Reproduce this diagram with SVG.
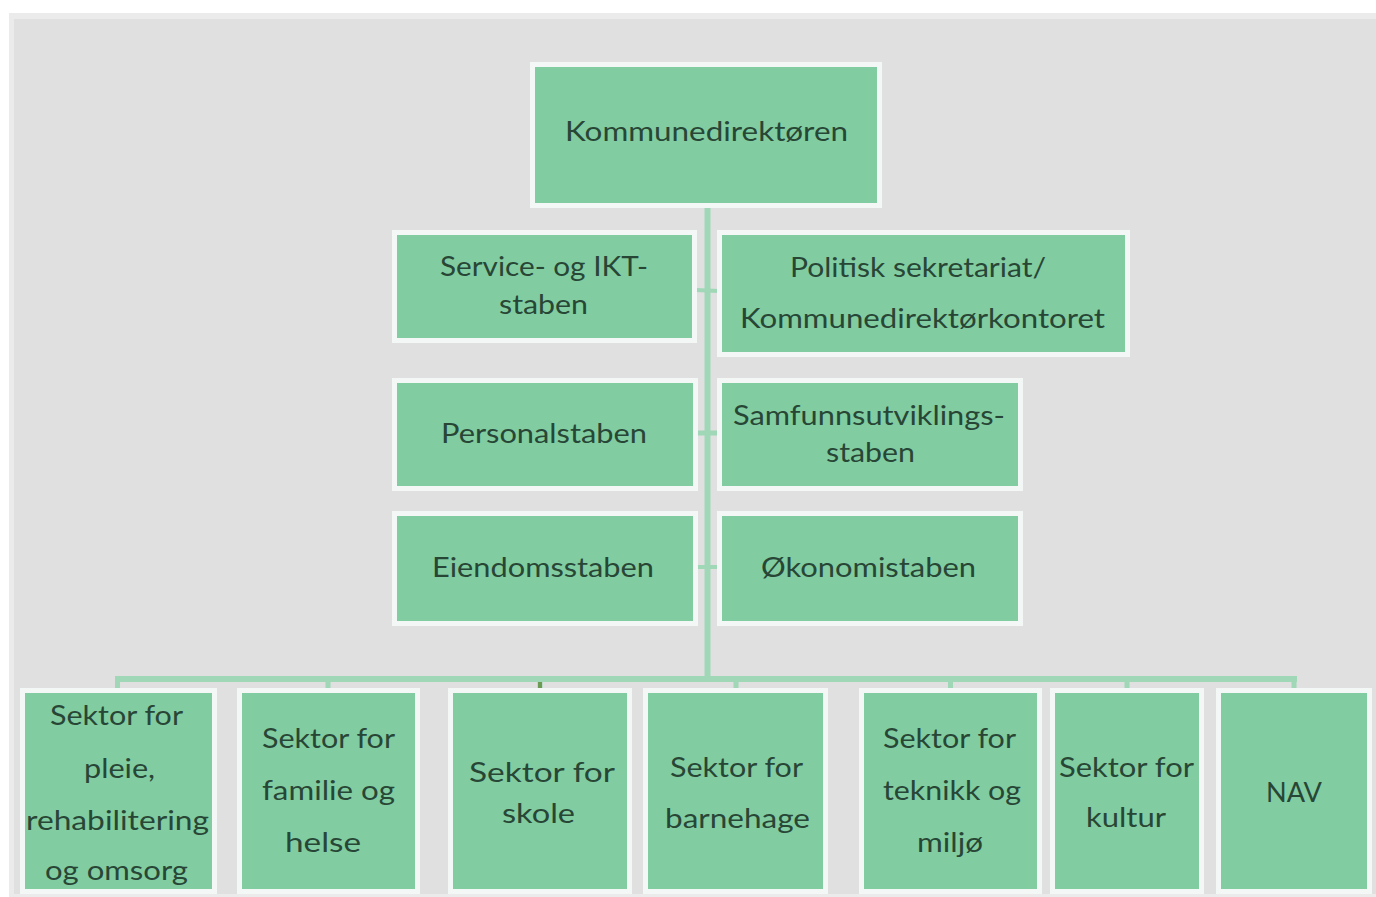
<svg xmlns="http://www.w3.org/2000/svg" width="1376" height="897" viewBox="0 0 1376 897">
<style>
.box{fill:#81cda1;stroke:#f3f7f5;stroke-width:5}
.t{font-family:Lato,"Liberation Sans",Arial,sans-serif;font-size:26px;fill:#284636;text-anchor:middle}
.s{font-size:27px}
.line{stroke:#9fd7b7;fill:none}
</style>
<rect x="0" y="0" width="1376" height="897" fill="#ffffff"/>
<rect x="9" y="13" width="1367" height="884" fill="#ebebeb"/>
<rect x="14" y="19" width="1362" height="875" fill="#e0e0e0"/>

<g id="connectors">
<line class="line" x1="707.5" y1="207" x2="707.5" y2="681" stroke-width="6"/>
<line class="line" x1="115" y1="679" x2="1297" y2="679" stroke-width="6" stroke="#97d5b1"/>
<line class="line" x1="117.5" y1="679" x2="117.5" y2="691" stroke-width="5"/>
<line class="line" x1="328" y1="679" x2="328" y2="691" stroke-width="5"/>
<line class="line" x1="540" y1="679" x2="540" y2="691" stroke-width="5"/>
<rect x="538" y="682" width="4" height="7" fill="#6c9a52"/>
<line class="line" x1="736" y1="679" x2="736" y2="691" stroke-width="5"/>
<line class="line" x1="950.5" y1="679" x2="950.5" y2="691" stroke-width="5"/>
<line class="line" x1="1127" y1="679" x2="1127" y2="691" stroke-width="5"/>
<line class="line" x1="1294" y1="679" x2="1294" y2="691" stroke-width="5"/>
<line class="line" x1="695" y1="290" x2="719" y2="291" stroke-width="4"/>
<line class="line" x1="696" y1="433" x2="719" y2="433" stroke-width="5"/>
<line class="line" x1="696" y1="567" x2="719" y2="567" stroke-width="4"/>
</g>

<g id="kommunedirektoren">
<rect class="box" x="532.5" y="64.5" width="347" height="141"/>
<text class="t" x="706.5" y="141" textLength="283" lengthAdjust="spacingAndGlyphs">Kommunedirektøren</text>
</g>

<g id="service-ikt">
<rect class="box" x="394.5" y="232.5" width="300" height="108"/>
<text class="t" x="544" y="276" textLength="208" lengthAdjust="spacingAndGlyphs">Service- og IKT-</text>
<text class="t" x="543.5" y="314" textLength="89" lengthAdjust="spacingAndGlyphs">staben</text>
</g>

<g id="politisk">
<rect class="box" x="719.5" y="232.5" width="408" height="122"/>
<text class="t" x="918" y="277" textLength="256" lengthAdjust="spacingAndGlyphs">Politisk sekretariat/</text>
<text class="t" x="922.5" y="328" textLength="365" lengthAdjust="spacingAndGlyphs">Kommunedirektørkontoret</text>
</g>

<g id="personal">
<rect class="box" x="394.5" y="380.5" width="301" height="108"/>
<text class="t" x="544" y="443" textLength="206" lengthAdjust="spacingAndGlyphs">Personalstaben</text>
</g>

<g id="samfunn">
<rect class="box" x="719.5" y="380.5" width="301" height="108"/>
<text class="t" x="869" y="425" textLength="272" lengthAdjust="spacingAndGlyphs">Samfunnsutviklings-</text>
<text class="t" x="870.5" y="462" textLength="89" lengthAdjust="spacingAndGlyphs">staben</text>
</g>

<g id="eiendom">
<rect class="box" x="394.5" y="513.5" width="301" height="110"/>
<text class="t" x="543" y="577" textLength="222" lengthAdjust="spacingAndGlyphs">Eiendomsstaben</text>
</g>

<g id="okonomi">
<rect class="box" x="719.5" y="513.5" width="301" height="110"/>
<text class="t" x="868.5" y="577" textLength="215" lengthAdjust="spacingAndGlyphs">Økonomistaben</text>
</g>

<g id="sektor-pleie">
<rect class="box" x="22.5" y="690.5" width="192" height="201"/>
<text class="t s" x="116.5" y="725" textLength="133" lengthAdjust="spacingAndGlyphs">Sektor for</text>
<text class="t s" x="119.5" y="778" textLength="71" lengthAdjust="spacingAndGlyphs">pleie,</text>
<text class="t s" x="117.5" y="830" textLength="183" lengthAdjust="spacingAndGlyphs">rehabilitering</text>
<text class="t s" x="116.5" y="880" textLength="143" lengthAdjust="spacingAndGlyphs">og omsorg</text>
</g>

<g id="sektor-familie">
<rect class="box" x="239.5" y="690.5" width="178" height="201"/>
<text class="t s" x="328.5" y="748" textLength="133" lengthAdjust="spacingAndGlyphs">Sektor for</text>
<text class="t s" x="328.5" y="800" textLength="133" lengthAdjust="spacingAndGlyphs">familie og</text>
<text class="t s" x="323" y="852" textLength="76" lengthAdjust="spacingAndGlyphs">helse</text>
</g>

<g id="sektor-skole">
<rect class="box" x="450.5" y="690.5" width="179" height="201"/>
<text class="t s" x="542" y="782" textLength="146" lengthAdjust="spacingAndGlyphs">Sektor for</text>
<text class="t s" x="538.5" y="823" textLength="73" lengthAdjust="spacingAndGlyphs">skole</text>
</g>

<g id="sektor-barnehage">
<rect class="box" x="645.5" y="690.5" width="180" height="201"/>
<text class="t s" x="736.5" y="777" textLength="133" lengthAdjust="spacingAndGlyphs">Sektor for</text>
<text class="t s" x="737.5" y="828" textLength="145" lengthAdjust="spacingAndGlyphs">barnehage</text>
</g>

<g id="sektor-teknikk">
<rect class="box" x="861.5" y="690.5" width="178" height="201"/>
<text class="t s" x="949.5" y="748" textLength="133" lengthAdjust="spacingAndGlyphs">Sektor for</text>
<text class="t s" x="952" y="800" textLength="138" lengthAdjust="spacingAndGlyphs">teknikk og</text>
<text class="t s" x="950" y="852" textLength="66" lengthAdjust="spacingAndGlyphs">miljø</text>
</g>

<g id="sektor-kultur">
<rect class="box" x="1052.5" y="690.5" width="149" height="201"/>
<text class="t s" x="1126.5" y="777" textLength="135" lengthAdjust="spacingAndGlyphs">Sektor for</text>
<text class="t s" x="1126" y="827" textLength="80" lengthAdjust="spacingAndGlyphs">kultur</text>
</g>

<g id="nav">
<rect class="box" x="1218.5" y="690.5" width="151" height="201"/>
<text class="t s" x="1294" y="802" textLength="56" lengthAdjust="spacingAndGlyphs">NAV</text>
</g>
</svg>
